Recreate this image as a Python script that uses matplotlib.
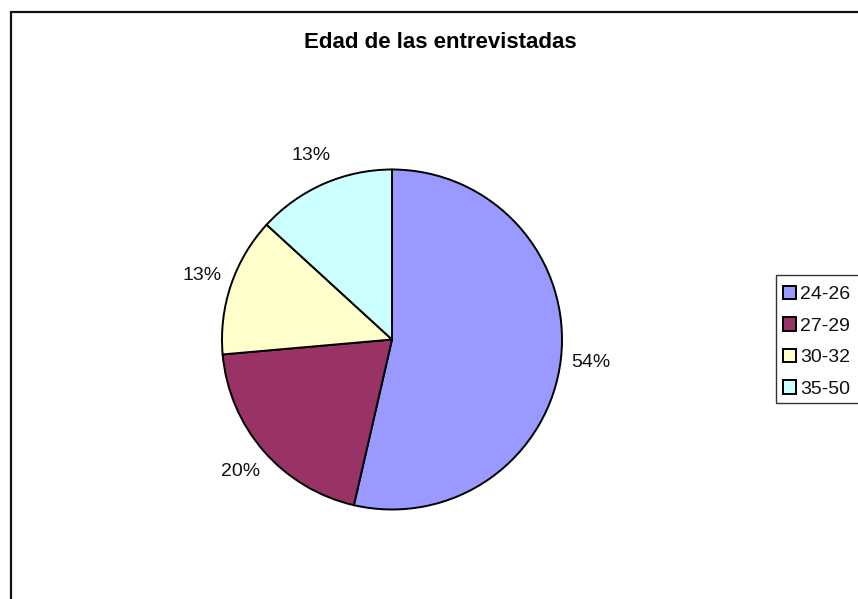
import matplotlib
matplotlib.use("Agg")
import matplotlib.pyplot as plt
from matplotlib.patches import Patch, Rectangle

plt.rcParams['font.family'] = ['Liberation Sans', 'DejaVu Sans']

# ---- data ----
age_groups = ['24-26', '27-29', '30-32', '35-50']
shares = [53.6, 20.0, 13.2, 13.2]          # percent
slice_colors = ['#9999FF', '#993366', '#FFFFCC', '#CCFFFF']
title = 'Edad de las entrevistadas'

W, H = 858, 599
fig = plt.figure(figsize=(W / 100, H / 100), dpi=100)
fig.patch.set_facecolor('white')

# chart area border (Excel style)
fig.patches.append(Rectangle((11 / W, -0.1), 1.2, 1 - 11.5 / H + 0.1,
                             transform=fig.transFigure, fill=False,
                             edgecolor='#111111', linewidth=1.6))

# pie axes: centre (392, 339.5) px, radius 170 px
cx, cy, r = 392, 339.5, 170
half = 200
ax = fig.add_axes([(cx - half) / W, (H - cy - half) / H, 2 * half / W, 2 * half / H])
wedges, texts, autotexts = ax.pie(
    shares, colors=slice_colors, startangle=90, counterclock=False,
    autopct='%1.0f%%', pctdistance=1.18, radius=1,
    wedgeprops=dict(edgecolor='black', linewidth=1.4),
    textprops=dict(fontsize=14, color='#111111'))
lim = half / r
ax.set_xlim(-lim, lim)
ax.set_ylim(-lim, lim)
ax.axis('off')

fig.text(440 / W, 1 - 42 / H, title, ha='center', va='center',
         fontsize=16, fontweight='bold')

# legend box runs off the right edge like in the original
fig.patches.append(Rectangle((776 / W, 1 - 403 / H), 0.2, 128 / H,
                             transform=fig.transFigure, facecolor='white',
                             edgecolor='#333333', linewidth=1.0))
handles = [Patch(facecolor=c, edgecolor='black', linewidth=1.4) for c in slice_colors]
leg = fig.legend(handles, age_groups, loc='upper left',
                 bbox_to_anchor=(776 / W, 1 - 279 / H), borderaxespad=0,
                 fontsize=14, frameon=False,
                 handlelength=0.67, handleheight=0.67, handletextpad=0.2,
                 labelspacing=0.72, borderpad=0.36)
for t in leg.get_texts():
    t.set_color('#111111')

fig.savefig('out.png', dpi=100)
